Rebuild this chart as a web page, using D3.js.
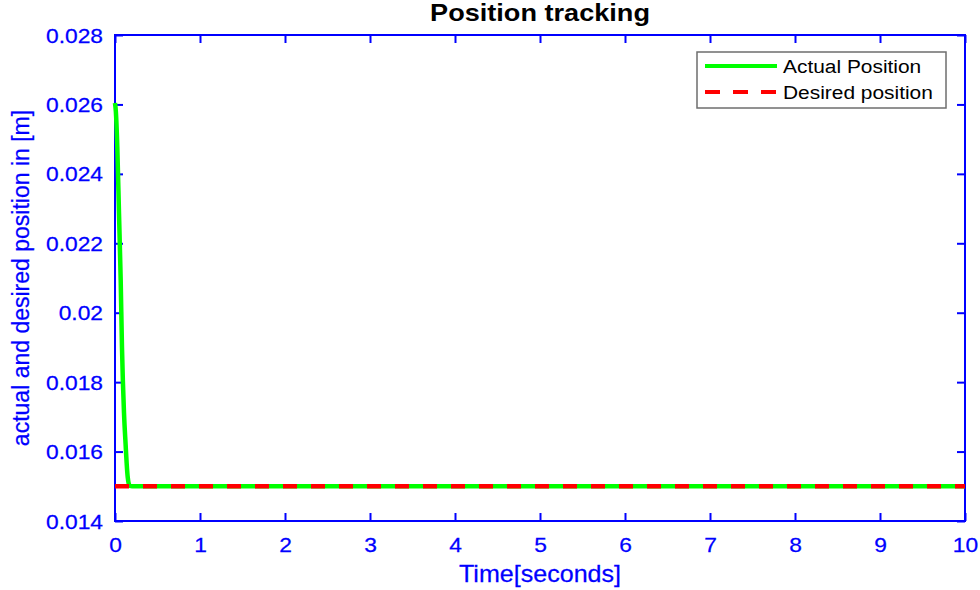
<!DOCTYPE html>
<html>
<head>
<meta charset="utf-8">
<script src="https://cdn.jsdelivr.net/npm/d3@7"></script>
<style>
  body { margin: 0; background: #fff; }
  text { font-family: "Liberation Sans", Arial, sans-serif; }
</style>
</head>
<body>
<svg id="chart" width="980" height="590"></svg>
<script>
// values
const actualTime = [0, 0.01, 0.027, 0.047, 0.067, 0.082, 0.106, 0.125, 0.137, 0.15, 0.162, 0.175, 0.2, 0.3, 10];
const actualPos  = [0.02604, 0.0258, 0.02478, 0.02287, 0.02094, 0.01901, 0.01711, 0.01620, 0.01567, 0.01525, 0.01507, 0.01501, 0.01500, 0.0150, 0.0150];
const desiredTime = [0, 10];
const desiredPos  = [0.015, 0.015];
const xTicks = [0, 1, 2, 3, 4, 5, 6, 7, 8, 9, 10];
const yTicks = [0.014, 0.016, 0.018, 0.02, 0.022, 0.024, 0.026, 0.028];
const seriesNames = ['Actual Position', 'Desired position'];

const blue = '#0000ff';
const sx = 1.14; // the picture's text is a bit wider than plain Arial

const svg = d3.select('#chart');
const dim = {left: 115, right: 965, top: 35, bottom: 521};

const x = d3.scaleLinear().domain([0, 10]).range([dim.left, dim.right]);
const y = d3.scaleLinear().domain([0.014, 0.028]).range([dim.bottom, dim.top]);

// box and ticks
const axisStyle = g => {
  g.select('.domain').remove();
  g.selectAll('line').attr('stroke', blue).attr('stroke-width', 2);
};

svg.append('g')
  .attr('transform', `translate(0,${dim.bottom})`)
  .call(d3.axisBottom(x).tickValues(xTicks).tickSize(-8).tickFormat(d3.format('d')))
  .call(axisStyle)
  .call(g => g.selectAll('text')
    .attr('fill', blue).style('font-size', '20px')
    .attr('stroke', blue).attr('stroke-width', 0.25)
    .attr('y', 0).attr('dy', 0)
    .attr('transform', `translate(0,31) scale(${sx},1)`));

svg.append('g')
  .attr('transform', `translate(0,${dim.top})`)
  .call(d3.axisTop(x).tickValues(xTicks).tickSize(-8).tickFormat(''))
  .call(axisStyle);

svg.append('g')
  .attr('transform', `translate(${dim.left},0)`)
  .call(d3.axisLeft(y).tickValues(yTicks).tickSize(-8).tickFormat(d => d3.format('')(+d.toFixed(3))))
  .call(axisStyle)
  .call(g => g.selectAll('text')
    .attr('fill', blue).style('font-size', '20px')
    .attr('stroke', blue).attr('stroke-width', 0.25)
    .attr('x', 0).attr('dy', '0.35em')
    .attr('transform', `translate(-12,0) scale(${sx},1)`));

svg.append('g')
  .attr('transform', `translate(${dim.right},0)`)
  .call(d3.axisRight(y).tickValues(yTicks).tickSize(-8).tickFormat(''))
  .call(axisStyle);

svg.append('rect')
  .attr('x', dim.left).attr('y', dim.top)
  .attr('width', dim.right - dim.left).attr('height', dim.bottom - dim.top)
  .attr('fill', 'none').attr('stroke', blue).attr('stroke-width', 2);

// lines
const line = d3.line().x(d => x(d[0])).y(d => y(d[1])).curve(d3.curveMonotoneX);

svg.append('path')
  .datum(d3.zip(actualTime, actualPos))
  .attr('d', line)
  .attr('fill', 'none')
  .attr('stroke', '#00ff00')
  .attr('stroke-width', 4.5)
  .attr('stroke-linejoin', 'round');

svg.append('path')
  .datum(d3.zip(desiredTime, desiredPos))
  .attr('d', line)
  .attr('fill', 'none')
  .attr('stroke', '#ff0000')
  .attr('stroke-width', 4.5)
  .attr('stroke-dasharray', '14,14');

// title and axis labels
svg.append('text')
  .attr('transform', `translate(${(dim.left + dim.right) / 2},21) scale(1.13,1)`)
  .attr('text-anchor', 'middle')
  .style('font-size', '24px').style('font-weight', 'bold')
  .attr('fill', '#000')
  .text('Position tracking');

svg.append('text')
  .attr('transform', `translate(${(dim.left + dim.right) / 2},582) scale(1.09,1)`)
  .attr('text-anchor', 'middle')
  .style('font-size', '23px')
  .attr('fill', blue).attr('stroke', blue).attr('stroke-width', 0.25)
  .text('Time[seconds]');

svg.append('text')
  .attr('transform', `translate(29,${(dim.top + dim.bottom) / 2}) rotate(-90)`)
  .attr('text-anchor', 'middle')
  .style('font-size', '23px')
  .attr('fill', blue).attr('stroke', blue).attr('stroke-width', 0.25)
  .text('actual and desired position in [m]');

// legend
const legend = svg.append('g').attr('transform', 'translate(697,52)');

legend.append('rect')
  .attr('width', 249).attr('height', 56)
  .attr('fill', '#fff')
  .attr('stroke', '#6e6e6e').attr('stroke-width', 1.5);

const legendColour = d3.scaleOrdinal(seriesNames, ['#00ff00', '#ff0000']);
const legendDash = d3.scaleOrdinal(seriesNames, ['none', '15,13']);

const item = legend.selectAll('g.item')
  .data(seriesNames)
  .enter().append('g')
    .attr('class', 'item')
    .attr('transform', (d, i) => `translate(0,${14 + i * 26})`);

item.append('line')
  .attr('x1', 8).attr('x2', 80)
  .attr('stroke', d => legendColour(d))
  .attr('stroke-width', 4)
  .attr('stroke-dasharray', d => legendDash(d));

item.append('text')
  .attr('transform', `translate(86,7) scale(1.1,1)`)
  .style('font-size', '19px')
  .attr('fill', '#000')
  .text(d => d);
</script>
</body>
</html>
